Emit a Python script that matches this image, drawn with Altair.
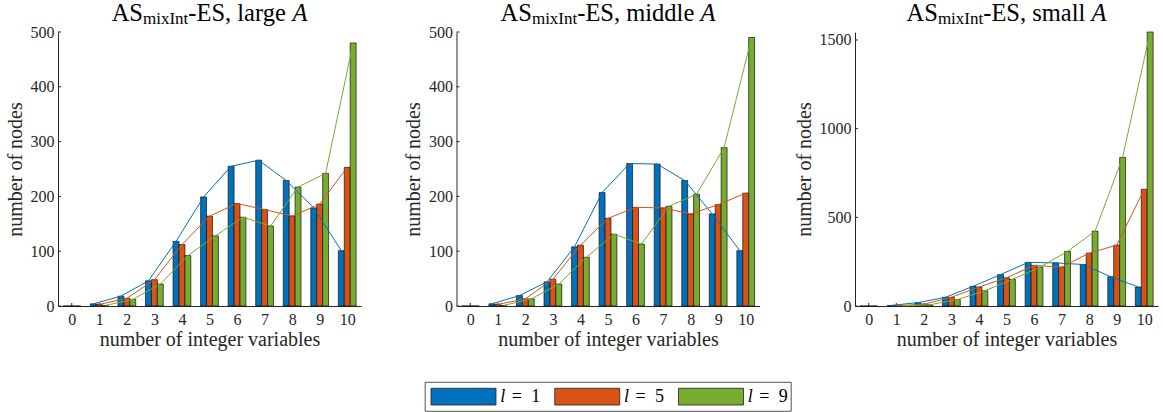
import altair as alt
import pandas as pd

# ---------------- data ----------------
categories = list(range(11))
series_l = [1, 5, 9]
series_labels = ["l = 1", "l = 5", "l = 9"]
colors = ["#0072BD", "#D95319", "#77AC30"]

large_l1 = [0, 4, 18, 46, 118, 199, 255, 266, 229, 179, 101]
large_l5 = [0, 3, 14, 48, 112, 164, 187, 176, 164, 186, 253]
large_l9 = [0, 1, 12, 40, 92, 128, 162, 146, 217, 242, 480]

middle_l1 = [0, 4, 19, 44, 108, 207, 260, 259, 229, 168, 101]
middle_l5 = [0, 3, 13, 49, 111, 160, 180, 179, 168, 185, 206]
middle_l9 = [0, 1, 13, 40, 89, 131, 113, 182, 204, 289, 490]

small_l1 = [0, 3, 19, 49, 111, 177, 246, 243, 234, 165, 107]
small_l5 = [0, 2, 10, 49, 107, 159, 229, 219, 298, 343, 658]
small_l9 = [0, 1, 7, 36, 86, 150, 219, 308, 422, 838, 1545]

panel_words = ["large", "middle", "small"]
y_max = [500, 500, 1545]
y_ticks = [[0, 100, 200, 300, 400, 500], [0, 100, 200, 300, 400, 500], [0, 500, 1000, 1500]]

# ---------------- style ----------------
FONT = "Liberation Serif"
TXT = "#262626"
W, H = 303, 274
BW = 0.215  # bar width in category units

# Times / Liberation Serif advance widths (em) for title layout
EM = {'A': .722, 'S': .556, 'm': .778, 'i': .278, 'x': .5, 'I': .333, 'n': .5,
      't': .278, '-': .333, 'E': .611, ',': .25, ' ': .25, 'l': .278, 'a': .444,
      'r': .333, 'g': .5, 'e': .444, 'd': .5, 's': .389}


def tw(s, fs):
    return sum(EM[c] for c in s) * fs


def one():
    return alt.Data(values=[{"a": 0}])


def title_layers(word):
    fs, fss = 24.5, 17
    p3 = "-ES, " + word
    widths = [tw("AS", fs), tw("mixInt", fss), tw(p3, fs), tw(" ", fs), 0.611 * fs]
    x = W / 2 - sum(widths) / 2
    base_y, sub_y = -11.3, -8.2
    out = []
    out.append(alt.Chart(one()).mark_text(text="AS", align="left", baseline="alphabetic",
                                         font=FONT, fontSize=fs, color="black")
               .encode(x=alt.value(x), y=alt.value(base_y)))
    x += widths[0]
    out.append(alt.Chart(one()).mark_text(text="mixInt", align="left", baseline="alphabetic",
                                         font=FONT, fontSize=fss, color="black")
               .encode(x=alt.value(x), y=alt.value(sub_y)))
    x += widths[1]
    out.append(alt.Chart(one()).mark_text(text=p3, align="left", baseline="alphabetic",
                                         font=FONT, fontSize=fs, color="black")
               .encode(x=alt.value(x), y=alt.value(base_y)))
    x += widths[2] + widths[3]
    out.append(alt.Chart(one()).mark_text(text="A", align="left", baseline="alphabetic",
                                         font=FONT, fontSize=fs, fontStyle="italic", color="black")
               .encode(x=alt.value(x), y=alt.value(base_y)))
    return out


def panel(vals, ymax, yt, word, legend=False):
    rows = []
    for k, (l, v) in enumerate(zip(series_l, vals)):
        for n, val in zip(categories, v):
            rows.append({"n": n, "l": l, "k": k, "value": val})
    df = pd.DataFrame(rows)

    xaxis = alt.Axis(values=categories, format="d", title="number of integer variables",
                     labelPadding=5, titlePadding=2)
    yaxis = alt.Axis(values=yt, format="d", title="number of nodes",
                     labelPadding=4, titlePadding=5)
    xs = alt.Scale(domain=[-0.5, 10.5], nice=False, zero=False)
    ys = alt.Scale(domain=[0, ymax], nice=False)
    color = alt.Color("l:N", scale=alt.Scale(domain=series_l, range=colors), legend=None)

    base = alt.Chart(df).transform_calculate(
        xc=f"datum.n + (datum.k - 1) * {BW}",
        x0=f"datum.n + (datum.k - 1) * {BW} - {BW / 2}",
        x1=f"datum.n + (datum.k - 1) * {BW} + {BW / 2}",
    )
    bars = base.mark_rect(stroke="#111111", strokeWidth=0.7).encode(
        x=alt.X("x0:Q", scale=xs, axis=xaxis), x2="x1:Q",
        y=alt.Y("value:Q", scale=ys, axis=yaxis), y2=alt.datum(0), color=color)
    lines = base.transform_filter("datum.n > 0").mark_line(strokeWidth=1).encode(
        x=alt.X("xc:Q", scale=xs, axis=xaxis),
        y=alt.Y("value:Q", scale=ys, axis=yaxis), color=color, detail="l:N",
        order="n:Q")

    xt = alt.Chart(pd.DataFrame({"n": categories})).mark_rule(color=TXT, strokeWidth=1).encode(
        x=alt.X("n:Q", scale=xs, axis=xaxis), y=alt.value(H), y2=alt.value(H - 3))
    yt_ = alt.Chart(pd.DataFrame({"t": yt})).mark_rule(color=TXT, strokeWidth=1).encode(
        y=alt.Y("t:Q", scale=ys, axis=yaxis), x=alt.value(0), x2=alt.value(3))

    inner = alt.layer(xt, yt_, bars, lines, *title_layers(word))
    if not legend:
        return inner.properties(width=W, height=H)

    ldf = pd.DataFrame({"lab": series_labels, "l": series_l, "num": [str(v) for v in series_l]})
    lx = alt.X("lab:N", scale=alt.Scale(type="point", domain=series_labels, range=[7, 254.5], padding=0),
               axis=None)
    box = alt.Chart(one()).mark_rect(fill="white", stroke=TXT, strokeWidth=0.8).encode(
        x=alt.value(-31.3), x2=alt.value(334.7), y=alt.value(350.3), y2=alt.value(379.3))
    sw = alt.Chart(ldf).mark_bar(width=65, stroke="#222222", strokeWidth=0.8).encode(
        x=lx, y=alt.value(356.3), y2=alt.value(373), color=color)
    t_l = alt.Chart(ldf).mark_text(text="l", align="left", baseline="alphabetic", dx=36.7,
                                   font=FONT, fontSize=18, fontStyle="italic", color="black").encode(
        x=lx, y=alt.value(370.3))
    t_eq = alt.Chart(ldf).mark_text(text="=", align="center", baseline="alphabetic", dx=53.3,
                                    font=FONT, fontSize=18, color="black").encode(
        x=lx, y=alt.value(370.3))
    t_n = alt.Chart(ldf).mark_text(align="center", baseline="alphabetic", dx=72.2,
                                   font=FONT, fontSize=18, color="black").encode(
        x=lx, y=alt.value(370.3), text="num:N")
    leg = alt.layer(box, sw, t_l, t_eq, t_n)
    return alt.layer(inner, leg).resolve_scale(x="independent").properties(width=W, height=H)


p1 = panel([large_l1, large_l5, large_l9], y_max[0], y_ticks[0], panel_words[0])
p2 = panel([middle_l1, middle_l5, middle_l9], y_max[1], y_ticks[1], panel_words[1], legend=True)
p3 = panel([small_l1, small_l5, small_l9], y_max[2], y_ticks[2], panel_words[2])

chart = alt.hconcat(p1, p2, p3, spacing=95.5, bounds="flush").properties(
    padding={"left": 5, "top": 0, "right": 2, "bottom": 0}
).configure(font=FONT).configure_view(stroke=None).configure_axis(
    grid=False, ticks=False,
    labelFont=FONT, labelFontSize=16, labelColor=TXT,
    titleFont=FONT, titleFontSize=20, titleFontWeight="normal", titleColor=TXT,
    domainColor=TXT, domainWidth=1, labelFlush=False, labelOverlap=False,
)

chart.save("out.html", embed_options={"renderer": "svg", "actions": False})
